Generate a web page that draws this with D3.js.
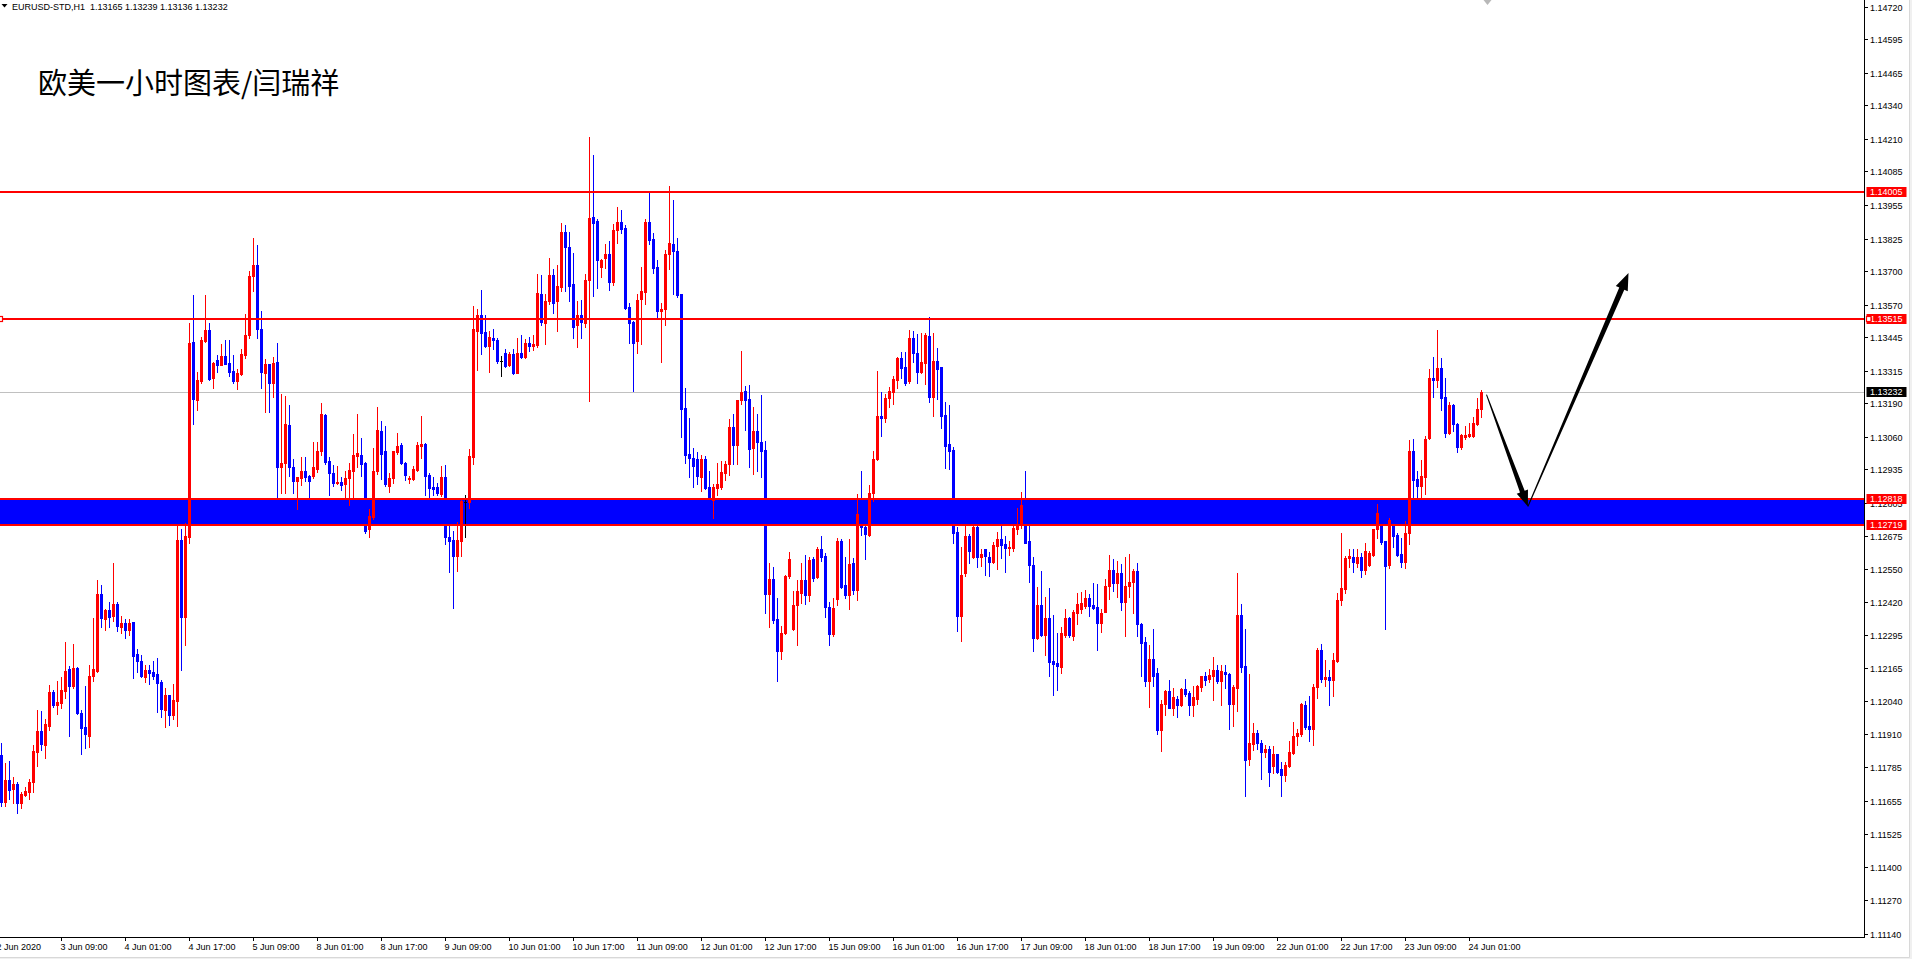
<!DOCTYPE html>
<html><head><meta charset="utf-8">
<script src="https://cdn.jsdelivr.net/npm/d3@7"></script>
<style>body{margin:0;background:#fff;overflow:hidden} svg{display:block}</style>
</head><body>
<svg id="c" width="1912" height="959"></svg>
<script>
// ---------------- DATA (EURUSD H1, bar index 0 = leftmost visible bar) ----------------
const opens = [1.11832,1.11651,1.11734,1.11701,1.11720,1.11647,1.11675,1.11686,1.11725,1.11841,1.11924,1.11871,1.11944,1.12073,1.12025,1.12033,1.12078,1.12162,1.12096,1.12168,1.11993,1.11939,1.11904,1.12136,1.12157,1.12453,1.12355,1.12392,1.12369,1.12414,1.12326,1.12342,1.12312,1.12346,1.12220,1.12193,1.12131,1.12158,1.12151,1.12142,1.12114,1.12006,1.12062,1.11986,1.12039,1.12660,1.12365,1.12674,1.13425,1.13203,1.13275,1.13428,1.13471,1.13286,1.13355,1.13338,1.13371,1.13344,1.13312,1.13275,1.13302,1.13375,1.13454,1.13679,1.13722,1.13474,1.13307,1.13339,1.13268,1.13347,1.12944,1.12957,1.13105,1.12944,1.12890,1.12899,1.12928,1.12908,1.12908,1.12936,1.13003,1.13144,1.12967,1.12921,1.12881,1.12886,1.12876,1.12901,1.12928,1.12986,1.12990,1.12957,1.12703,1.12749,1.12926,1.13082,1.13003,1.12868,1.12899,1.13000,1.13028,1.12960,1.12896,1.12895,1.12931,1.13025,1.13031,1.12913,1.12864,1.12864,1.12838,1.12905,1.12672,1.12659,1.12601,1.12656,1.12806,1.12806,1.12982,1.13467,1.13529,1.13464,1.13410,1.13439,1.13435,1.13353,1.13383,1.13336,1.13379,1.13307,1.13383,1.13367,1.13422,1.13410,1.13413,1.13611,1.13497,1.13583,1.13683,1.13583,1.13637,1.13849,1.13791,1.13648,1.13491,1.13530,1.13497,1.13663,1.13907,1.13892,1.13714,1.13749,1.13764,1.13659,1.13856,1.13887,1.13867,1.13561,1.13504,1.13429,1.13590,1.13620,1.13887,1.13824,1.13716,1.13544,1.13554,1.13767,1.13803,1.13777,1.13609,1.13169,1.12994,1.12979,1.12972,1.12904,1.12972,1.12866,1.12816,1.12861,1.12866,1.12919,1.12953,1.13096,1.13027,1.13203,1.13237,1.13206,1.13015,1.13083,1.13041,1.13007,1.12453,1.12511,1.12356,1.12232,1.12302,1.12520,1.12319,1.12410,1.12458,1.12507,1.12449,1.12589,1.12517,1.12628,1.12599,1.12404,1.12299,1.12434,1.12658,1.12487,1.12449,1.12571,1.12468,1.12763,1.12712,1.12680,1.12842,1.12974,1.13141,1.13132,1.13209,1.13234,1.13278,1.13363,1.13327,1.13273,1.13440,1.13384,1.13311,1.13346,1.13448,1.13215,1.13352,1.13327,1.13145,1.13030,1.13007,1.12692,1.12366,1.12532,1.12676,1.12596,1.12712,1.12596,1.12625,1.12596,1.12577,1.12638,1.12664,1.12645,1.12630,1.12630,1.12705,1.12718,1.12795,1.12656,1.12564,1.12281,1.12410,1.12294,1.12361,1.12194,1.12185,1.12172,1.12294,1.12358,1.12291,1.12380,1.12394,1.12407,1.12436,1.12410,1.12403,1.12342,1.12384,1.12483,1.12544,1.12496,1.12535,1.12423,1.12483,1.12497,1.12541,1.12337,1.12269,1.12118,1.12202,1.12147,1.11926,1.12028,1.12078,1.12014,1.12048,1.12022,1.12085,1.12072,1.12025,1.12048,1.12095,1.12136,1.12124,1.12137,1.12159,1.12118,1.12153,1.12144,1.12028,1.12091,1.12371,1.12175,1.11815,1.11875,1.11917,1.11878,1.11843,1.11853,1.11790,1.11834,1.11775,1.11754,1.11788,1.11839,1.11903,1.11912,1.12022,1.11942,1.11933,1.12095,1.12235,1.12125,1.12131,1.12121,1.12194,1.12428,1.12472,1.12590,1.12597,1.12572,1.12597,1.12545,1.12565,1.12603,1.12703,1.12767,1.12656,1.12565,1.12716,1.12682,1.12606,1.12575,1.12689,1.13004,1.12895,1.12868,1.12906,1.13053,1.13287,1.13280,1.13324,1.13214,1.13074,1.13181,1.13108,1.13019,1.13057,1.13063,1.13063,1.13108,1.13165];
const highs = [1.11878,1.11798,1.11807,1.11744,1.11728,1.11689,1.11708,1.11739,1.11869,1.12006,1.12001,1.11970,1.12102,1.12083,1.12116,1.12130,1.12269,1.12175,1.12261,1.12171,1.12006,1.12096,1.12180,1.12358,1.12508,1.12489,1.12396,1.12422,1.12572,1.12421,1.12367,1.12355,1.12356,1.12346,1.12240,1.12215,1.12178,1.12177,1.12194,1.12207,1.12121,1.12088,1.12062,1.12104,1.12716,1.12704,1.12727,1.13498,1.13605,1.13309,1.13443,1.13605,1.13498,1.13347,1.13377,1.13417,1.13432,1.13432,1.13375,1.13320,1.13397,1.13535,1.13700,1.13827,1.13799,1.13547,1.13358,1.13342,1.13367,1.13421,1.13226,1.13217,1.13182,1.12974,1.12905,1.12982,1.12982,1.12910,1.13041,1.13039,1.13188,1.13147,1.12982,1.12951,1.12946,1.12903,1.12928,1.12957,1.13070,1.13149,1.13054,1.12964,1.12779,1.13018,1.13175,1.13121,1.13102,1.12918,1.13005,1.13075,1.13036,1.12964,1.12909,1.12948,1.13041,1.13140,1.13034,1.12918,1.12905,1.12880,1.12948,1.12951,1.12723,1.12695,1.12729,1.12823,1.12836,1.13013,1.13564,1.13551,1.13625,1.13529,1.13467,1.13474,1.13439,1.13370,1.13400,1.13386,1.13400,1.13439,1.13451,1.13436,1.13443,1.13451,1.13688,1.13683,1.13611,1.13748,1.13709,1.13721,1.13885,1.13879,1.13849,1.13771,1.13584,1.13587,1.13688,1.14218,1.14147,1.13899,1.13747,1.13803,1.13814,1.13882,1.13946,1.13935,1.13879,1.13577,1.13508,1.13611,1.13716,1.13899,1.14004,1.13846,1.13741,1.13577,1.13781,1.14028,1.13974,1.13827,1.13609,1.13247,1.13132,1.13015,1.13002,1.12988,1.12986,1.12926,1.12876,1.12959,1.12965,1.12965,1.13127,1.13146,1.13203,1.13390,1.13255,1.13261,1.13173,1.13148,1.13222,1.13045,1.12574,1.12558,1.12436,1.12330,1.12525,1.12613,1.12463,1.12507,1.12571,1.12602,1.12597,1.12594,1.12635,1.12676,1.12609,1.12420,1.12436,1.12668,1.12663,1.12597,1.12663,1.12590,1.12837,1.12929,1.12718,1.12872,1.13003,1.13314,1.13231,1.13224,1.13252,1.13293,1.13368,1.13387,1.13387,1.13470,1.13468,1.13455,1.13459,1.13459,1.13523,1.13459,1.13401,1.13327,1.13192,1.13183,1.13020,1.12712,1.12635,1.12724,1.12686,1.12721,1.12721,1.12628,1.12628,1.12616,1.12654,1.12690,1.12718,1.12675,1.12657,1.12714,1.12786,1.12846,1.12929,1.12714,1.12596,1.12480,1.12542,1.12442,1.12476,1.12371,1.12301,1.12324,1.12394,1.12365,1.12390,1.12455,1.12461,1.12468,1.12452,1.12496,1.12490,1.12393,1.12510,1.12602,1.12586,1.12580,1.12567,1.12596,1.12606,1.12548,1.12574,1.12342,1.12288,1.12256,1.12317,1.12166,1.12044,1.12082,1.12120,1.12091,1.12057,1.12089,1.12124,1.12076,1.12098,1.12102,1.12136,1.12153,1.12163,1.12208,1.12179,1.12179,1.12179,1.12147,1.12102,1.12532,1.12413,1.12317,1.12144,1.11954,1.11926,1.11889,1.11871,1.11864,1.11864,1.11836,1.11802,1.11802,1.11885,1.11958,1.11933,1.12032,1.12040,1.12057,1.12104,1.12242,1.12259,1.12196,1.12159,1.12224,1.12455,1.12689,1.12600,1.12627,1.12627,1.12627,1.12609,1.12648,1.12620,1.12705,1.12799,1.12780,1.12656,1.12747,1.12730,1.12689,1.12668,1.12733,1.13046,1.13052,1.12929,1.12971,1.13063,1.13321,1.13367,1.13473,1.13363,1.13287,1.13195,1.13187,1.13112,1.13070,1.13101,1.13111,1.13136,1.13208,1.13239];
const lows = [1.11635,1.11633,1.11662,1.11645,1.11606,1.11625,1.11671,1.11661,1.11686,1.11790,1.11850,1.11821,1.11927,1.12016,1.11990,1.12011,1.12050,1.11905,1.12091,1.11990,1.11833,1.11857,1.11861,1.12117,1.12151,1.12326,1.12313,1.12326,1.12347,1.12308,1.12303,1.12284,1.12296,1.12127,1.12151,1.12131,1.12111,1.12105,1.12125,1.11998,1.11977,1.11940,1.11946,1.11971,1.11942,1.12158,1.12254,1.12651,1.13110,1.13163,1.13268,1.13424,1.13278,1.13249,1.13311,1.13335,1.13340,1.13295,1.13268,1.13245,1.13298,1.13365,1.13440,1.13621,1.13439,1.13249,1.13157,1.13157,1.13213,1.12819,1.12841,1.12841,1.12909,1.12841,1.12779,1.12874,1.12890,1.12821,1.12900,1.12922,1.12990,1.12954,1.12836,1.12871,1.12877,1.12854,1.12819,1.12797,1.12819,1.12941,1.12909,1.12687,1.12672,1.12742,1.12915,1.12896,1.12871,1.12845,1.12881,1.12992,1.12954,1.12892,1.12881,1.12892,1.12926,1.12977,1.12836,1.12826,1.12836,1.12836,1.12832,1.12646,1.12537,1.12400,1.12543,1.12601,1.12672,1.12785,1.12954,1.13316,1.13380,1.13406,1.13311,1.13397,1.13345,1.13293,1.13329,1.13333,1.13300,1.13304,1.13362,1.13363,1.13390,1.13393,1.13405,1.13491,1.13419,1.13573,1.13537,1.13469,1.13623,1.13623,1.13584,1.13439,1.13407,1.13442,1.13482,1.13198,1.13604,1.13634,1.13678,1.13712,1.13627,1.13645,1.13807,1.13846,1.13551,1.13422,1.13235,1.13384,1.13418,1.13571,1.13803,1.13691,1.13518,1.13347,1.13491,1.13706,1.13609,1.13600,1.13060,1.12959,1.12904,1.12866,1.12879,1.12850,1.12859,1.12811,1.12746,1.12835,1.12859,1.12893,1.12912,1.12953,1.12953,1.13185,1.13084,1.12941,1.12917,1.12927,1.12904,1.12379,1.12325,1.12340,1.12116,1.12202,1.12299,1.12513,1.12315,1.12255,1.12417,1.12414,1.12426,1.12503,1.12513,1.12581,1.12362,1.12257,1.12289,1.12411,1.12475,1.12436,1.12395,1.12453,1.12430,1.12680,1.12588,1.12676,1.12812,1.12971,1.13061,1.13115,1.13176,1.13186,1.13247,1.13286,1.13260,1.13269,1.13350,1.13266,1.13307,1.13265,1.13192,1.13138,1.13207,1.13092,1.12938,1.12936,1.12650,1.12308,1.12270,1.12520,1.12571,1.12593,1.12558,1.12561,1.12526,1.12520,1.12574,1.12548,1.12592,1.12538,1.12602,1.12619,1.12686,1.12709,1.12650,1.12499,1.12234,1.12277,1.12290,1.12217,1.12134,1.12063,1.12080,1.12149,1.12288,1.12285,1.12275,1.12337,1.12378,1.12400,1.12369,1.12394,1.12236,1.12307,1.12381,1.12433,1.12465,1.12442,1.12391,1.12290,1.12442,1.12380,1.12292,1.12134,1.12098,1.12018,1.12099,1.11913,1.11845,1.11986,1.12011,1.11986,1.11976,1.12021,1.12059,1.11984,1.11980,1.12028,1.12076,1.12102,1.12114,1.12044,1.12108,1.12025,1.12091,1.11932,1.11944,1.12002,1.12150,1.11672,1.11794,1.11850,1.11853,1.11738,1.11823,1.11710,1.11760,1.11761,1.11674,1.11729,1.11784,1.11836,1.11871,1.11905,1.11933,1.11885,1.11871,1.12049,1.12111,1.12098,1.12022,1.12057,1.12191,1.12411,1.12458,1.12558,1.12538,1.12558,1.12517,1.12531,1.12562,1.12600,1.12668,1.12645,1.12318,1.12554,1.12634,1.12600,1.12558,1.12551,1.12645,1.12823,1.12823,1.12823,1.12840,1.13049,1.13214,1.13253,1.13163,1.13057,1.13071,1.13081,1.13002,1.13012,1.13050,1.13060,1.13060,1.13105,1.13136];
const closes = [1.11651,1.11734,1.11697,1.11718,1.11645,1.11681,1.11692,1.11725,1.11846,1.11924,1.11874,1.11950,1.12073,1.12023,1.12035,1.12083,1.12157,1.12098,1.12168,1.11993,1.11936,1.11910,1.12137,1.12161,1.12453,1.12359,1.12392,1.12365,1.12412,1.12328,1.12339,1.12312,1.12342,1.12212,1.12193,1.12135,1.12158,1.12147,1.12135,1.12109,1.12009,1.12062,1.11986,1.12043,1.12660,1.12365,1.12676,1.13421,1.13207,1.13278,1.13432,1.13471,1.13281,1.13344,1.13338,1.13371,1.13342,1.13311,1.13275,1.13305,1.13379,1.13454,1.13679,1.13722,1.13474,1.13311,1.13339,1.13268,1.13343,1.12941,1.12958,1.13108,1.12944,1.12890,1.12903,1.12926,1.12903,1.12887,1.12941,1.13005,1.13149,1.12964,1.12918,1.12880,1.12886,1.12874,1.12901,1.12932,1.12990,1.12995,1.12954,1.12697,1.12754,1.12928,1.13086,1.12992,1.12877,1.12901,1.13003,1.13025,1.12957,1.12913,1.12899,1.12936,1.13028,1.13031,1.12909,1.12860,1.12859,1.12841,1.12905,1.12672,1.12656,1.12601,1.12659,1.12810,1.12806,1.12986,1.13474,1.13529,1.13461,1.13410,1.13444,1.13434,1.13352,1.13353,1.13333,1.13379,1.13304,1.13383,1.13367,1.13422,1.13410,1.13416,1.13616,1.13501,1.13584,1.13683,1.13577,1.13642,1.13849,1.13793,1.13640,1.13485,1.13530,1.13501,1.13666,1.13903,1.13886,1.13742,1.13744,1.13767,1.13656,1.13857,1.13887,1.13860,1.13558,1.13497,1.13422,1.13587,1.13623,1.13887,1.13821,1.13713,1.13544,1.13554,1.13767,1.13806,1.13777,1.13606,1.13166,1.12991,1.12977,1.12948,1.12907,1.12972,1.12861,1.12816,1.12866,1.12876,1.12922,1.12954,1.13096,1.13027,1.13203,1.13234,1.13203,1.13012,1.13083,1.13038,1.13004,1.12453,1.12511,1.12351,1.12232,1.12302,1.12522,1.12586,1.12411,1.12464,1.12507,1.12449,1.12584,1.12513,1.12628,1.12596,1.12404,1.12299,1.12398,1.12658,1.12478,1.12449,1.12568,1.12468,1.12763,1.12712,1.12684,1.12843,1.12974,1.13141,1.13132,1.13211,1.13237,1.13282,1.13363,1.13324,1.13269,1.13440,1.13382,1.13311,1.13349,1.13452,1.13215,1.13352,1.13323,1.13141,1.13023,1.13004,1.12689,1.12366,1.12526,1.12676,1.12619,1.12712,1.12596,1.12605,1.12598,1.12577,1.12641,1.12664,1.12641,1.12630,1.12634,1.12707,1.12724,1.12795,1.12651,1.12564,1.12281,1.12410,1.12294,1.12361,1.12191,1.12182,1.12175,1.12301,1.12358,1.12294,1.12381,1.12413,1.12419,1.12436,1.12407,1.12400,1.12342,1.12380,1.12483,1.12544,1.12496,1.12532,1.12423,1.12484,1.12497,1.12541,1.12335,1.12265,1.12118,1.12202,1.12137,1.11926,1.12028,1.12078,1.12014,1.12054,1.12022,1.12085,1.12067,1.12025,1.12053,1.12099,1.12136,1.12121,1.12140,1.12159,1.12118,1.12157,1.12144,1.12028,1.12095,1.12371,1.12172,1.11810,1.11877,1.11917,1.11878,1.11843,1.11853,1.11765,1.11834,1.11765,1.11754,1.11792,1.11843,1.11903,1.11917,1.12026,1.11940,1.11933,1.12095,1.12235,1.12125,1.12131,1.12121,1.12197,1.12430,1.12476,1.12590,1.12600,1.12576,1.12597,1.12545,1.12620,1.12609,1.12703,1.12767,1.12652,1.12562,1.12737,1.12678,1.12603,1.12575,1.12689,1.13004,1.12891,1.12868,1.12909,1.13049,1.13287,1.13277,1.13324,1.13211,1.13074,1.13181,1.13108,1.13019,1.13067,1.13067,1.13071,1.13112,1.13165,1.13232];

const priceTickLabels = ["1.14720","1.14595","1.14465","1.14340","1.14210","1.14085","1.13955","1.13825","1.13700","1.13570","1.13445","1.13315","1.13190","1.13060","1.12935","1.12805","1.12675","1.12550","1.12420","1.12295","1.12165","1.12040","1.11910","1.11785","1.11655","1.11525","1.11400","1.11270","1.11140"];
const timeTickLabels = ["2 Jun 2020","3 Jun 09:00","4 Jun 01:00","4 Jun 17:00","5 Jun 09:00","8 Jun 01:00","8 Jun 17:00","9 Jun 09:00","10 Jun 01:00","10 Jun 17:00","11 Jun 09:00","12 Jun 01:00","12 Jun 17:00","15 Jun 09:00","16 Jun 01:00","16 Jun 17:00","17 Jun 09:00","18 Jun 01:00","18 Jun 17:00","19 Jun 09:00","22 Jun 01:00","22 Jun 17:00","23 Jun 09:00","24 Jun 01:00"];
const timeTickBars = [-1,15,31,47,63,79,95,111,127,143,159,175,191,207,223,239,255,271,287,303,319,335,351,367];

const resistanceLevels = [1.14005, 1.13515];
const zoneLevels = [1.12818, 1.12719];
const bidPrice = 1.13232;
const chartTitle = "欧美一小时图表/闫瑞祥";
const headerText = "EURUSD-STD,H1  1.13165 1.13239 1.13136 1.13232";
// forecast arrows: [bar index, price]
const arrowDown = [[371.25, 1.13222], [381.6, 1.12790]];
const arrowUp = [[381.6, 1.12790], [406.75, 1.13692]];

// ---------------- LAYOUT ----------------
const W = 1912, H = 959, plotR = 1864, plotB = 937;
const svg = d3.select("#c");
const axisFont = "'Liberation Sans', Arial, sans-serif";

const x = d3.scaleLinear().domain([0, 466]).range([1.5, 1.5 + 4 * 466]);
const y = d3.scaleLinear().domain([1.11128, 1.14746]).range([plotB, 0]);
const yi = p => Math.round(y(p));

svg.append("rect").attr("width", W).attr("height", H).attr("fill", "#fff");

const plot = svg.append("g");
svg.append("defs").append("clipPath").attr("id", "pc")
  .append("rect").attr("x", 0).attr("y", 0).attr("width", plotR).attr("height", plotB);
plot.attr("clip-path", "url(#pc)");

// bid line
plot.append("line").attr("x1", 0).attr("x2", plotR)
  .attr("y1", yi(bidPrice) + 0.5).attr("y2", yi(bidPrice) + 0.5)
  .attr("stroke", "#c0c0c0").attr("stroke-width", 1);

// blue zone
plot.append("rect").attr("x", 0).attr("width", plotR)
  .attr("y", yi(zoneLevels[0])).attr("height", yi(zoneLevels[1]) - yi(zoneLevels[0]))
  .attr("fill", "#0000ff");

// candles
const bars = d3.range(opens.length).map(i => ({i, o: opens[i], h: highs[i], l: lows[i], c: closes[i]}));
const colorOf = d => d.c > d.o ? "#ff0000" : (d.c < d.o ? "#0000ff" : "#000000");
const cg = plot.append("g").attr("shape-rendering", "crispEdges");
cg.selectAll("rect.w").data(bars).join("rect").attr("class", "w")
  .attr("x", d => x(d.i) - 0.5).attr("width", 1)
  .attr("y", d => yi(d.h))
  .attr("height", d => Math.max(1, yi(d.l) - yi(d.h) + 1))
  .attr("fill", colorOf);
cg.selectAll("rect.b").data(bars).join("rect").attr("class", "b")
  .attr("x", d => x(d.i) - 1.5).attr("width", 3)
  .attr("y", d => yi(Math.max(d.o, d.c)))
  .attr("height", d => Math.max(1, yi(Math.min(d.o, d.c)) - yi(Math.max(d.o, d.c)) + 1))
  .attr("fill", colorOf);

// horizontal level lines (2 px)
[...resistanceLevels, ...zoneLevels].forEach(p => {
  plot.append("rect").attr("x", 0).attr("width", plotR).attr("y", yi(p) - 1).attr("height", 2)
    .attr("fill", "#ff0000");
});

// arrows
function arrowPoly(pts, w0, w1, hl, hw) {
  const p0 = [x(pts[0][0]), y(pts[0][1])], p1 = [x(pts[1][0]), y(pts[1][1])];
  const dx = p1[0] - p0[0], dy = p1[1] - p0[1], L = Math.hypot(dx, dy);
  const u = [dx / L, dy / L], n = [-u[1], u[0]];
  const B = [p1[0] - u[0] * hl, p1[1] - u[1] * hl];
  const P = (b, s) => [b[0] + n[0] * s, b[1] + n[1] * s];
  return [P(p0, w0 / 2), P(B, w1 / 2), P(B, hw / 2), p1, P(B, -hw / 2), P(B, -w1 / 2), P(p0, -w0 / 2)];
}
[[arrowDown, 1, 5, 16, 12], [arrowUp, 1, 5.5, 17, 13]].forEach(([pts, w0, w1, hl, hw]) => {
  plot.append("polygon").attr("points", arrowPoly(pts, w0, w1, hl, hw).map(p => p.join(",")).join(" "))
    .attr("fill", "#000");
});

// anchor marker of the 1.13515 line (left end)
const yr = yi(resistanceLevels[1]);
svg.append("rect").attr("x", -2.5).attr("y", yr - 2.5).attr("width", 5).attr("height", 5)
  .attr("fill", "#fff").attr("stroke", "#ff0000").attr("stroke-width", 1.2);

// chart shift marker
svg.append("path").attr("d", `M${x(371.5)-4},0 L${x(371.5)+4},0 L${x(371.5)},5 Z`).attr("fill", "#b8b8b8");

// axes lines
svg.append("line").attr("x1", plotR + 0.5).attr("x2", plotR + 0.5).attr("y1", 0).attr("y2", plotB + 1)
  .attr("stroke", "#000").attr("stroke-width", 1);
svg.append("line").attr("x1", 0).attr("x2", plotR + 1).attr("y1", plotB + 0.5).attr("y2", plotB + 0.5)
  .attr("stroke", "#000").attr("stroke-width", 1);

// price axis
const pa = svg.append("g").attr("font-family", axisFont).attr("font-size", 9).attr("fill", "#000");
priceTickLabels.forEach(t => {
  const yy = yi(+t) + 0.5;
  pa.append("line").attr("x1", plotR).attr("x2", plotR + 4).attr("y1", yy).attr("y2", yy).attr("stroke", "#000");
  pa.append("text").attr("x", plotR + 6).attr("y", yy + 3.3).text(t);
});

// time axis
const ta = svg.append("g").attr("font-family", axisFont).attr("font-size", 9).attr("fill", "#000");
timeTickLabels.forEach((t, k) => {
  const xx = Math.floor(x(timeTickBars[k])) + 0.5;
  if (xx > 0) ta.append("line").attr("x1", xx).attr("x2", xx).attr("y1", plotB).attr("y2", plotB + 4).attr("stroke", "#000");
  ta.append("text").attr("x", x(timeTickBars[k]) - 1).attr("y", plotB + 12.5).text(t);
});

// price labels on right
function priceTag(p, bg) {
  const yy = yi(p);
  svg.append("rect").attr("x", plotR + 2.5).attr("y", yy - 5).attr("width", 40).attr("height", 10).attr("fill", bg);
  svg.append("text").attr("x", plotR + 6).attr("y", yy + 3.3).attr("font-family", axisFont).attr("font-size", 9)
    .attr("fill", "#fff").text(p.toFixed(5));
}
[...resistanceLevels, ...zoneLevels].forEach(p => priceTag(p, "#ff0000"));
priceTag(bidPrice, "#000000");
svg.append("rect").attr("x", plotR + 2.5).attr("y", yr - 2.5).attr("width", 4.5).attr("height", 5)
  .attr("fill", "#fff").attr("stroke", "#ff0000").attr("stroke-width", 1.2);

// header
svg.append("path").attr("d", "M1.5,4 L7.5,4 L4.5,7.5 Z").attr("fill", "#000");
svg.append("text").attr("x", 12).attr("y", 10).attr("font-family", axisFont).attr("font-size", 9)
  .attr("fill", "#000").style("white-space", "pre").text(headerText);

// title
svg.append("text").attr("x", 38).attr("y", 94).attr("font-family", "'Noto Sans CJK SC', sans-serif")
  .attr("font-size", 29).attr("fill", "#000").text(chartTitle);

// window border
svg.append("rect").attr("x", 1909).attr("y", 0).attr("width", 3).attr("height", H).attr("fill", "#f0f0f0");
svg.append("rect").attr("x", 0).attr("y", 957).attr("width", W).attr("height", 2).attr("fill", "#f0f0f0");
svg.append("line").attr("x1", 1909.5).attr("x2", 1909.5).attr("y1", 0).attr("y2", 957.5).attr("stroke", "#d8d8d8");
svg.append("line").attr("x1", 0).attr("x2", 1909.5).attr("y1", 957.5).attr("y2", 957.5).attr("stroke", "#d8d8d8");
</script>
</body></html>
